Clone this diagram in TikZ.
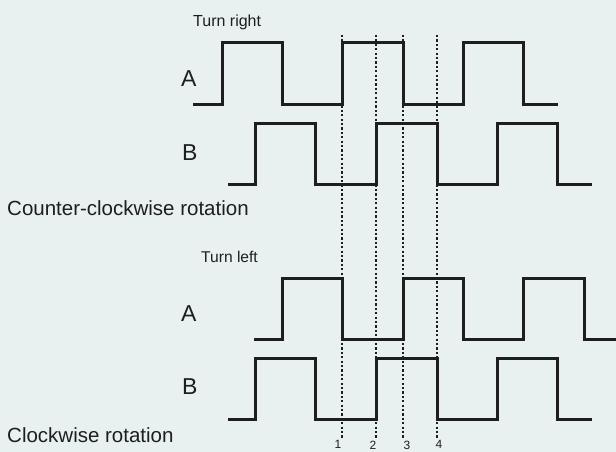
\documentclass[tikz,border=0pt]{standalone}
\usepackage{fontspec}
\setmainfont{Liberation Sans}
\begin{document}
\begin{tikzpicture}[x=1pt,y=-1pt,
  sig/.style={line width=3pt,color=ink,line join=miter,line cap=butt},
  marker/.style={line width=2.6pt,color=ink,dash pattern=on 2.2pt off 2.2pt},
  lbl/.style={inner sep=0pt,anchor=base west,text=ink},
  numlbl/.style={inner sep=0pt,anchor=north,text=ink,font=\fontsize{12}{12}\selectfont}]
\definecolor{bgc}{HTML}{E8F1F0}
\definecolor{ink}{HTML}{1E1E1E}
\fill[bgc] (0,0) rectangle (616,452);
\useasboundingbox (0,0) rectangle (616,452);

% titles
\node[lbl,font=\fontsize{16}{16}\selectfont] (tr) at (193,27) {Turn right};
\node[lbl,font=\fontsize{15.6}{16}\selectfont] (tl) at (201,262) {Turn left};
\node[lbl,font=\fontsize{20.5}{20}\selectfont] (ccw) at (7,215) {Counter-clockwise rotation};
\node[lbl,font=\fontsize{20.5}{20}\selectfont] (cw) at (7,442) {Clockwise rotation};
\node[lbl,font=\fontsize{23}{23}\selectfont] (a1) at (181,86) {A};
\node[lbl,font=\fontsize{23}{23}\selectfont] (b1) at (182,160) {B};
\node[lbl,font=\fontsize{23}{23}\selectfont] (a2) at (181,321) {A};
\node[lbl,font=\fontsize{23}{23}\selectfont] (b2) at (182,394) {B};

% markers
\foreach \x/\lx/\n in {342/338/1,376/373/2,403/407/3,437/439/4}{
  \draw[marker] (\x,35) -- (\x,438);
  \node[numlbl] (n\n) at (\lx,440.5) {\n};
}

% waveforms
\draw[sig] (193,104)--(222,104)--(222,43)--(282,43)--(282,104)--(342,104)--(342,43)--(403,43)--(403,104)--(463,104)--(463,43)--(523,43)--(523,104)--(558,104);
\draw[sig] (228,184)--(255,184)--(255,123)--(315,123)--(315,184)--(376,184)--(376,123)--(437,123)--(437,184)--(497,184)--(497,123)--(557,123)--(557,184)--(592,184);
\draw[sig] (254,339)--(282,339)--(282,278)--(342,278)--(342,339)--(403,339)--(403,278)--(463,278)--(463,339)--(523,339)--(523,278)--(584,278)--(584,339)--(616,339);
\draw[sig] (228,419)--(255,419)--(255,358)--(315,358)--(315,419)--(376,419)--(376,358)--(437,358)--(437,419)--(497,419)--(497,358)--(557,358)--(557,419)--(592,419);
\end{tikzpicture}
\end{document}
